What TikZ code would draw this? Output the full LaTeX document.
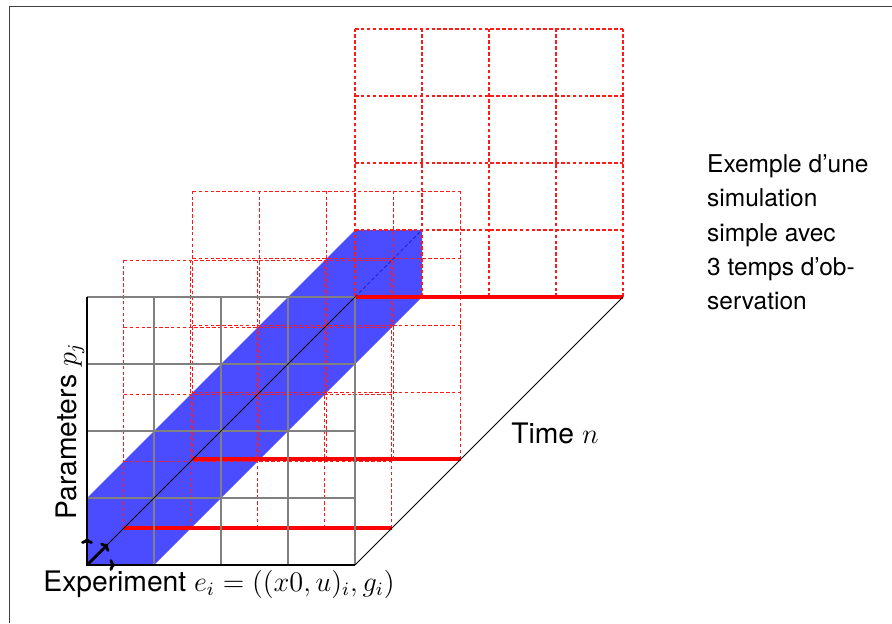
\documentclass[tikz,border=0pt]{standalone}
\usepackage{fontspec}
\setsansfont{TeX Gyre Heros}
\usetikzlibrary{arrows.meta}
\definecolor{band}{HTML}{4B4BFF}
\definecolor{bandline}{HTML}{2020C8}

\begin{document}
\begin{tikzpicture}[
  slice/.style={red!90!white,dash pattern=on 1.5pt off 1pt,line width=0.5pt},
  obs/.style={red,line width=1.7pt},
  front/.style={gray,line width=0.8pt},
  axis/.style={black,line width=0.8pt},
  lbl/.style={font=\sffamily\fontsize{12}{14}\selectfont},
  unitvec/.style={-{To[length=2.4pt,width=5pt]},line width=1.2pt}]
  \useasboundingbox (-1.2985,-0.8657) rectangle (12.015,8.433);
  % frame
  \draw[black!75,line width=0.5pt] (-1.157,-0.8657) |- (12.015,8.336);
  % experiment band
  \coordinate (O) at (0,0);
  \fill[band] (O) -- (0,1) -- (4,5) -- (5,5) -- (5,4) -- (1,0) -- cycle;
  % observation times
  \foreach \d in {0.55,1.58,4}{
    \draw[slice,shift={(\d,\d)}] (0,0) grid (4,4);
    \draw[obs,shift={(\d,\d)}] (0,0) -- (4,0);
  }
  % front plane
  \draw[front] (O) grid (4,4);
  \draw[axis] (0,4) -- (O) -- (4,0);
  \draw (4,0) -- (8,4);
  \draw (O) -- (4,4);
  \draw[bandline,dash pattern=on 1.5pt off 1pt] (4,4) -- (5,5);
  % unit vectors
  \draw[unitvec] (O) -- ++(0,0.4);
  \draw[unitvec] (O) -- ++(0.42,0);
  \draw[unitvec] (O) -- ++(0.31,0.31);
  % labels
  \node[lbl,rotate=90,anchor=south,inner sep=1pt] (param) at (0,2) {Parameters $p_j$};
  \node[lbl,anchor=north,inner sep=2pt] (expe) at (1.97,0) {Experiment $e_i=((x0,u)_i,g_i)$};
  \node[lbl] (time) at (6.985,1.97) {Time $n$};
  \node[font=\sffamily\fontsize{10.4}{14.5}\selectfont,align=left,anchor=north west,inner sep=0pt] (note) at (9.25,6.128)
    {Exemple d'une\\simulation\\simple avec\\3 temps d'ob-\\servation};
\end{tikzpicture}
\end{document}
